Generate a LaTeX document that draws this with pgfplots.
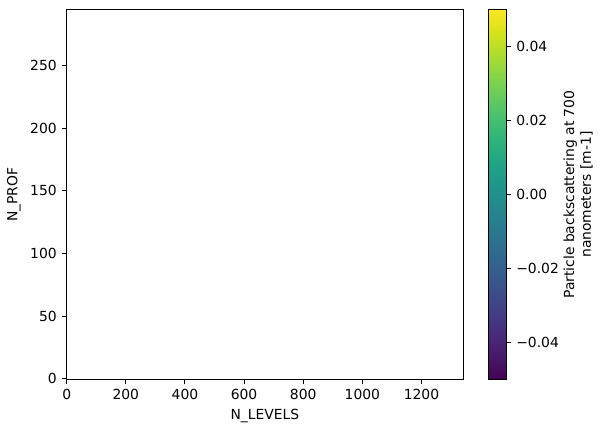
\documentclass[border=0pt]{standalone}
\usepackage{pgfplots}
\pgfplotsset{compat=1.18}
\usepackage{fontspec}
\setmainfont{DejaVu Sans}
\begin{document}
\begin{tikzpicture}
\useasboundingbox (-47.9pt,-37.9pt) rectangle (387.0pt,273.2pt);
\begin{axis}[
  at={(0,0)}, anchor=south west,
  scale only axis,
  width=285.7pt, height=266.2pt,
  xmin=-0.5, xmax=1341.5,
  ymin=-0.5, ymax=294.5,
  xtick={0,200,...,1200},
  ytick={0,50,...,250},
  tick align=outside,
  xtick pos=left, ytick pos=left,
  major tick length=3.5pt,
  every tick/.style={black, line width=0.8pt},
  axis line style={line width=0.8pt},
  /pgf/number format/assume math mode=true,
  /pgf/number format/set thousands separator={},
  tick label style={font=\fontsize{10pt}{12pt}\selectfont},
  label style={font=\fontsize{10pt}{12pt}\selectfont},
  xlabel={N\_LEVELS},
  ylabel={N\_PROF},
  colormap/viridis,
  point meta min=-0.05, point meta max=0.05,
  colorbar,
  colorbar style={
    at={(parent axis.north east)}, anchor=north west, xshift=9.4pt,
    width=13.2pt,
    scale only axis,
    ytick={-0.04,-0.02,0,0.02,0.04},
    yticklabels={−0.04,−0.02,0.00,0.02,0.04},
    ytick pos=right, yticklabel pos=right,
    tick align=outside,
    major tick length=3.5pt,
    every tick/.style={black, line width=0.8pt},
    axis line style={line width=0.8pt},
    yticklabel style={font=\fontsize{10pt}{12pt}\selectfont},
    ylabel={Particle backscattering at 700\\nanometers [m-1]},
    ylabel style={at={(rel axis cs:1,0.5)}, anchor=north, yshift=-37.6pt, align=center, font=\fontsize{10pt}{12pt}\selectfont},
  },
]
\end{axis}
\end{tikzpicture}
\end{document}
